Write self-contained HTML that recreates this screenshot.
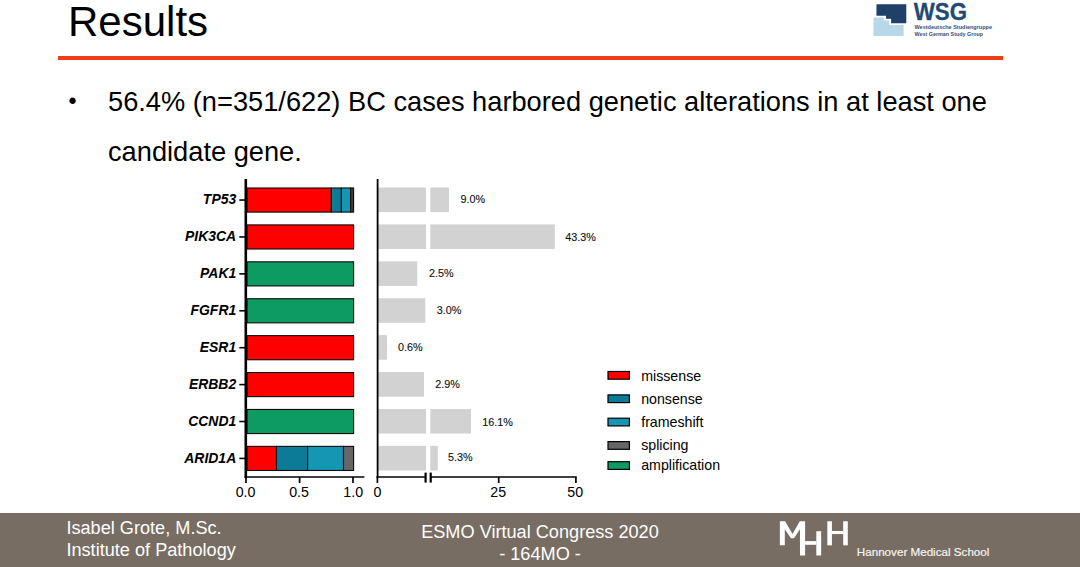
<!DOCTYPE html>
<html><head><meta charset="utf-8">
<style>
html,body{margin:0;padding:0;}
body{width:1080px;height:567px;background:#fff;position:relative;overflow:hidden;font-family:"Liberation Sans",sans-serif;color:#000;}
.abs{position:absolute;white-space:nowrap;}
#title{left:68px;top:-2.4px;font-size:42px;line-height:48px;}
#rule{left:58px;top:56px;width:945px;height:4px;background:#ee3d17;}
#bullet{left:68.4px;top:87.3px;font-size:23px;line-height:28px;}
#l1{left:108px;top:86.9px;font-size:27.24px;line-height:30px;}
#l2{left:108px;top:136.9px;font-size:27.24px;line-height:30px;}
#footer{left:0;top:512.6px;width:1080px;height:55px;background:#786d62;}
.ft{color:#fff;font-size:18.15px;line-height:20px;}
</style></head><body>
<div class="abs" id="title">Results</div>
<div class="abs" id="rule"></div>
<div class="abs" id="bullet">•</div>
<div class="abs" id="l1">56.4% (n=351/622) BC cases harbored genetic alterations in at least one</div>
<div class="abs" id="l2">candidate gene.</div>
<div class="abs" id="footer"></div>
<div class="abs ft" id="f1" style="left:66.4px;top:518.0px;">Isabel Grote, M.Sc.</div>
<div class="abs ft" id="f2" style="left:66.4px;top:539.5px;">Institute of Pathology</div>
<div class="abs ft" id="f3" style="left:340px;width:400px;text-align:center;top:522.1px;">ESMO Virtual Congress 2020</div>
<div class="abs ft" id="f4" style="left:340px;width:400px;text-align:center;top:544.1px;">- 164MO -</div>
<svg class="abs" id="chart" style="left:0;top:0" width="1080" height="567" font-family="Liberation Sans, sans-serif">
<rect x="378" y="187.50" width="48.0" height="24.6" fill="#d2d2d2"/>
<rect x="430.3" y="187.50" width="18.7" height="24.6" fill="#d2d2d2"/>
<text x="460.4" y="203.05" font-size="10.8" fill="#101010" stroke="#101010" stroke-width="0.12">9.0%</text>
<rect x="247.0" y="188.00" width="84.3" height="24.1" fill="#ff0000" stroke="#0a0a0a" stroke-width="1.1"/>
<rect x="331.3" y="188.00" width="10.1" height="24.1" fill="#0b7b97" stroke="#0a0a0a" stroke-width="1.1"/>
<rect x="341.4" y="188.00" width="9.2" height="24.1" fill="#1497b3" stroke="#0a0a0a" stroke-width="1.1"/>
<rect x="350.6" y="188.00" width="3.0" height="24.1" fill="#3c3c3c" stroke="#0a0a0a" stroke-width="1.1"/>
<line x1="239.3" x2="245" y1="200.05" y2="200.05" stroke="#000" stroke-width="1.6"/>
<text transform="translate(236.2,204.45) scale(0.962,1)" font-size="14.5" font-weight="bold" font-style="italic" text-anchor="end">TP53</text>
<rect x="378" y="224.41" width="48.0" height="24.6" fill="#d2d2d2"/>
<rect x="430.3" y="224.41" width="124.5" height="24.6" fill="#d2d2d2"/>
<text x="565.3" y="240.86" font-size="10.8" fill="#101010" stroke="#101010" stroke-width="0.12">43.3%</text>
<rect x="247.0" y="224.91" width="106.6" height="24.1" fill="#ff0000" stroke="#0a0a0a" stroke-width="1.1"/>
<line x1="239.3" x2="245" y1="236.96" y2="236.96" stroke="#000" stroke-width="1.6"/>
<text transform="translate(236.2,241.36) scale(0.962,1)" font-size="14.5" font-weight="bold" font-style="italic" text-anchor="end">PIK3CA</text>
<rect x="378" y="261.32" width="39.2" height="24.6" fill="#d2d2d2"/>
<text x="429" y="277.47" font-size="10.8" fill="#101010" stroke="#101010" stroke-width="0.12">2.5%</text>
<rect x="247.0" y="261.82" width="106.6" height="24.1" fill="#0d9b62" stroke="#0a0a0a" stroke-width="1.1"/>
<line x1="239.3" x2="245" y1="273.87" y2="273.87" stroke="#000" stroke-width="1.6"/>
<text transform="translate(236.2,278.27) scale(0.962,1)" font-size="14.5" font-weight="bold" font-style="italic" text-anchor="end">PAK1</text>
<rect x="378" y="298.23" width="47.3" height="24.6" fill="#d2d2d2"/>
<text x="436.7" y="313.78" font-size="10.8" fill="#101010" stroke="#101010" stroke-width="0.12">3.0%</text>
<rect x="247.0" y="298.73" width="106.6" height="24.1" fill="#0d9b62" stroke="#0a0a0a" stroke-width="1.1"/>
<line x1="239.3" x2="245" y1="310.78" y2="310.78" stroke="#000" stroke-width="1.6"/>
<text transform="translate(236.2,315.18) scale(0.962,1)" font-size="14.5" font-weight="bold" font-style="italic" text-anchor="end">FGFR1</text>
<rect x="378" y="335.14" width="9.0" height="24.6" fill="#d2d2d2"/>
<text x="398" y="350.99" font-size="10.8" fill="#101010" stroke="#101010" stroke-width="0.12">0.6%</text>
<rect x="247.0" y="335.64" width="106.6" height="24.1" fill="#ff0000" stroke="#0a0a0a" stroke-width="1.1"/>
<line x1="239.3" x2="245" y1="347.69" y2="347.69" stroke="#000" stroke-width="1.6"/>
<text transform="translate(236.2,352.09) scale(0.962,1)" font-size="14.5" font-weight="bold" font-style="italic" text-anchor="end">ESR1</text>
<rect x="378" y="372.05" width="46.0" height="24.6" fill="#d2d2d2"/>
<text x="435.2" y="388.20" font-size="10.8" fill="#101010" stroke="#101010" stroke-width="0.12">2.9%</text>
<rect x="247.0" y="372.55" width="106.6" height="24.1" fill="#ff0000" stroke="#0a0a0a" stroke-width="1.1"/>
<line x1="239.3" x2="245" y1="384.60" y2="384.60" stroke="#000" stroke-width="1.6"/>
<text transform="translate(236.2,389.00) scale(0.962,1)" font-size="14.5" font-weight="bold" font-style="italic" text-anchor="end">ERBB2</text>
<rect x="378" y="408.96" width="48.0" height="24.6" fill="#d2d2d2"/>
<rect x="430.3" y="408.96" width="40.7" height="24.6" fill="#d2d2d2"/>
<text x="482.2" y="425.91" font-size="10.8" fill="#101010" stroke="#101010" stroke-width="0.12">16.1%</text>
<rect x="247.0" y="409.46" width="106.6" height="24.1" fill="#0d9b62" stroke="#0a0a0a" stroke-width="1.1"/>
<line x1="239.3" x2="245" y1="421.51" y2="421.51" stroke="#000" stroke-width="1.6"/>
<text transform="translate(236.2,425.91) scale(0.962,1)" font-size="14.5" font-weight="bold" font-style="italic" text-anchor="end">CCND1</text>
<rect x="378" y="445.87" width="48.0" height="24.6" fill="#d2d2d2"/>
<rect x="430.3" y="445.87" width="7.5" height="24.6" fill="#d2d2d2"/>
<text x="448" y="461.32" font-size="10.8" fill="#101010" stroke="#101010" stroke-width="0.12">5.3%</text>
<rect x="247.0" y="446.37" width="29.5" height="24.1" fill="#ff0000" stroke="#0a0a0a" stroke-width="1.1"/>
<rect x="276.5" y="446.37" width="31.1" height="24.1" fill="#0b7b97" stroke="#0a0a0a" stroke-width="1.1"/>
<rect x="307.6" y="446.37" width="35.9" height="24.1" fill="#1497b3" stroke="#0a0a0a" stroke-width="1.1"/>
<rect x="343.5" y="446.37" width="10.1" height="24.1" fill="#666666" stroke="#0a0a0a" stroke-width="1.1"/>
<line x1="239.3" x2="245" y1="458.42" y2="458.42" stroke="#000" stroke-width="1.6"/>
<text transform="translate(236.2,462.82) scale(0.962,1)" font-size="14.5" font-weight="bold" font-style="italic" text-anchor="end">ARID1A</text>
<line x1="245.8" x2="245.8" y1="179" y2="477.85" stroke="#000" stroke-width="2.6"/>
<line x1="244.5" x2="364.4" y1="477.0" y2="477.0" stroke="#000" stroke-width="1.7"/>
<line x1="246.0" x2="246.0" y1="477.0" y2="483" stroke="#000" stroke-width="1.7"/>
<text x="245.5" y="497.2" font-size="14.2" text-anchor="middle">0.0</text>
<line x1="299.6" x2="299.6" y1="477.0" y2="483" stroke="#000" stroke-width="1.7"/>
<text x="299.0" y="497.2" font-size="14.2" text-anchor="middle">0.5</text>
<line x1="353.0" x2="353.0" y1="477.0" y2="483" stroke="#000" stroke-width="1.7"/>
<text x="353.2" y="497.2" font-size="14.2" text-anchor="middle">1.0</text>
<line x1="377.6" x2="377.6" y1="179" y2="477.85" stroke="#000" stroke-width="1.8"/>
<line x1="376.4" x2="425.6" y1="477.0" y2="477.0" stroke="#000" stroke-width="1.7"/>
<line x1="430.7" x2="576.7" y1="477.0" y2="477.0" stroke="#000" stroke-width="1.7"/>
<line x1="425.6" x2="425.6" y1="472.6" y2="482.6" stroke="#000" stroke-width="2.2"/>
<line x1="430.7" x2="430.7" y1="472.6" y2="482.6" stroke="#000" stroke-width="2.2"/>
<line x1="377.4" x2="377.4" y1="477.0" y2="483" stroke="#000" stroke-width="1.7"/>
<text x="377.4" y="497.2" font-size="14.2" text-anchor="middle">0</text>
<line x1="498.7" x2="498.7" y1="477.0" y2="483" stroke="#000" stroke-width="1.7"/>
<text x="498.2" y="497.2" font-size="14.2" text-anchor="middle">25</text>
<line x1="575.9" x2="575.9" y1="477.0" y2="483" stroke="#000" stroke-width="1.7"/>
<text x="575.2" y="497.2" font-size="14.2" text-anchor="middle">50</text>
<rect x="608.0" y="371.50" width="21.4" height="7.7" fill="#ff0000" stroke="#000" stroke-width="1.2"/>
<text x="641.2" y="381.0" font-size="14.2">missense</text>
<rect x="608.0" y="394.90" width="21.4" height="7.7" fill="#0b7b97" stroke="#000" stroke-width="1.2"/>
<text x="641.2" y="404.0" font-size="14.2">nonsense</text>
<rect x="608.0" y="418.20" width="21.4" height="7.7" fill="#1497b3" stroke="#000" stroke-width="1.2"/>
<text x="641.2" y="427.3" font-size="14.2">frameshift</text>
<rect x="608.0" y="441.60" width="21.4" height="7.7" fill="#666666" stroke="#000" stroke-width="1.2"/>
<text x="641.2" y="450.3" font-size="14.2">splicing</text>
<rect x="608.0" y="461.70" width="21.4" height="7.7" fill="#0d9b62" stroke="#000" stroke-width="1.2"/>
<text x="641.2" y="470.0" font-size="14.2">amplification</text>
</svg>
<svg class="abs" id="logos" style="left:0;top:0" width="1080" height="567" font-family="Liberation Sans, sans-serif"><polygon points="779.88,545.33 779.88,521.26 785.17,521.26 792.49,534.05 799.81,521.26 805.10,521.26 805.10,555.47 799.98,555.47 799.98,529.20 793.99,538.28 790.99,538.28 784.81,529.20 784.81,545.33" fill="#fff"/><rect x="805.10" y="541.10" width="11.20" height="3.70" fill="#fff"/><rect x="816.30" y="531.22" width="4.85" height="24.25" fill="#fff"/><rect x="827.32" y="521.26" width="4.59" height="24.07" fill="#fff"/><rect x="831.90" y="530.96" width="11.29" height="3.09" fill="#fff"/><rect x="843.19" y="521.26" width="4.59" height="24.07" fill="#fff"/><text x="856.8" y="556.1" font-size="11.2" fill="#f6f3f0" stroke="#f6f3f0" stroke-width="0.2" textLength="132.6" lengthAdjust="spacingAndGlyphs">Hannover Medical School</text><polygon points="876.46,4.23 906.29,4.23 906.29,23.13 891.13,23.13 891.13,18.69 885.98,18.69 885.98,15.66 876.46,15.66" fill="#1f4068"/><polygon points="873.50,17.49 883.87,17.49 883.87,20.45 889.02,20.45 889.02,25.04 903.61,25.04 903.61,36.11 873.50,36.11" fill="#b8d8ea"/><text x="913.8" y="20.4" font-size="23.8" font-weight="bold" fill="#1f4a75" stroke="#1f4a75" stroke-width="0.3" textLength="53.2" lengthAdjust="spacingAndGlyphs">WSG</text><text x="914.5" y="28.9" font-size="5.7" font-weight="bold" fill="#34507a" textLength="77.5" lengthAdjust="spacingAndGlyphs">Westdeutsche Studiengruppe</text><text x="914.5" y="36.2" font-size="5.7" font-weight="bold" fill="#34507a" textLength="68.6" lengthAdjust="spacingAndGlyphs">West German Study Group</text></svg>
</body></html>
